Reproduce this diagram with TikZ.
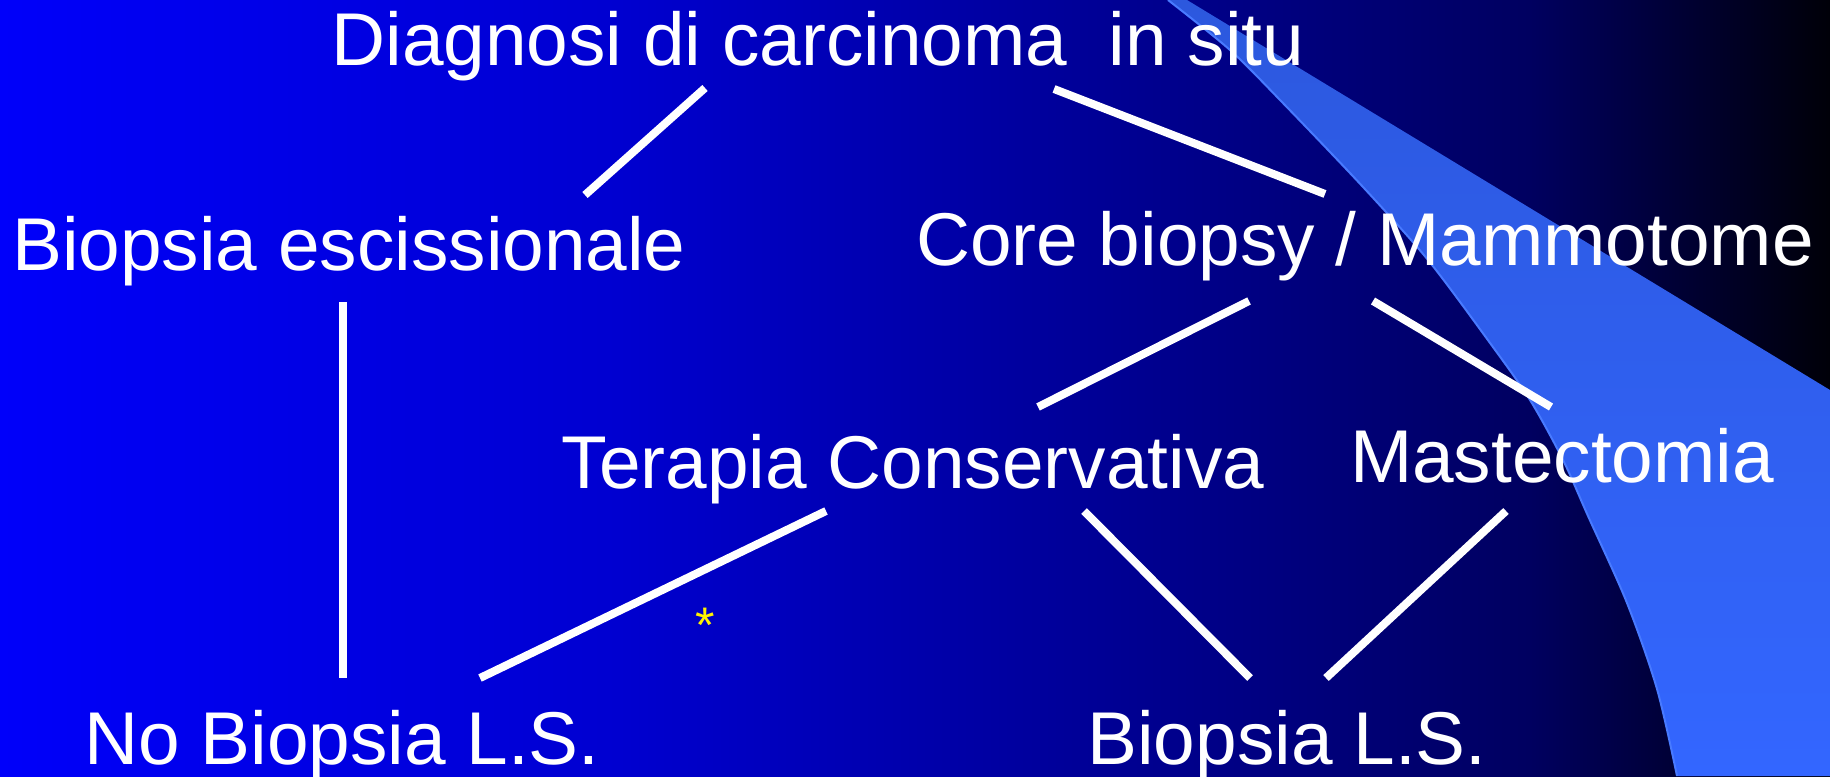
\documentclass[tikz,border=0pt]{standalone}
\usepackage{fontspec}
\setmainfont{Liberation Sans}
\definecolor{bgA}{RGB}{0,0,250}
\definecolor{bgB}{RGB}{0,0,208}
\definecolor{bgC}{RGB}{0,0,154}
\definecolor{bgD}{RGB}{0,0,96}
\definecolor{bgE}{RGB}{0,0,8}
\definecolor{swtop}{RGB}{44,88,222}
\definecolor{swmid}{RGB}{51,102,255}
\definecolor{swedge}{RGB}{72,122,255}
\pgfdeclarehorizontalshading{bgshade}{100bp}{color(0bp)=(bgA); color(25bp)=(bgA); color(41.9bp)=(bgB); color(53.95bp)=(bgC); color(66.8bp)=(bgD); color(75bp)=(bgE); color(100bp)=(bgE)}
\begin{document}
\begin{tikzpicture}[x=0.5pt,y=-0.5pt,
  link/.style={draw=white,line width=4pt},
  lbl/.style={text=white,font=\fontsize{37.4}{45}\selectfont,inner sep=0pt,anchor=base}]
\useasboundingbox (0,0) rectangle (1830,776);
% background
\shade[shading=bgshade] (0,0) rectangle (1830,776);
% swoosh
\shade[top color=swtop, middle color=swmid, bottom color=swmid]
  (1187,0) -- (1830,390) -- (1830,776) -- (1677,776)
  -- plot[smooth] coordinates {(1677,776) (1657,689) (1627,603) (1588,516) (1563,460) (1530,400) (1490,343) (1428,260) (1363,187) (1280,100) (1230,50) (1168,0)}
  -- cycle;
\draw[swedge, line width=1pt] plot[smooth] coordinates {(1677,776) (1657,689) (1627,603) (1588,516) (1563,460) (1530,400) (1490,343) (1428,260) (1363,187) (1280,100) (1230,50) (1168,0)};
% labels
\node[lbl] (diag) at (818,65) {Diagnosi di carcinoma\ \ in situ};
\node[lbl] (bioesc) at (349,270) {Biopsia escissionale};
\node[lbl] (core) at (1365,265) {Core biopsy / Mammotome};
\node[lbl] (terapia) at (913,488) {Terapia Conservativa};
\node[lbl] (mast) at (1562,482) {Mastectomia};
\node[lbl] (nobio) at (342,764) {No Biopsia L.S.};
\node[lbl] (bio) at (1287,764) {Biopsia L.S.};
\node[text=yellow, font=\fontsize{25}{30}\selectfont, inner sep=0pt, anchor=north] (star) at (705,608) {*};
% connector ends
\coordinate (diagL) at (705,88);
\coordinate (bioescT) at (585,195);
\coordinate (diagR) at (1054,89);
\coordinate (coreT) at (1325,194);
\coordinate (bioescB) at (343,302);
\coordinate (nobioT) at (343,678);
\coordinate (coreL) at (1249,301);
\coordinate (terapiaT) at (1038,407);
\coordinate (coreR) at (1373,301);
\coordinate (mastT) at (1551,407);
\coordinate (terapiaL) at (826,511);
\coordinate (nobioR) at (480,678);
\coordinate (terapiaR) at (1084,511);
\coordinate (bioL) at (1250,678);
\coordinate (mastB) at (1506,511);
\coordinate (bioR) at (1326,678);
% connectors
\draw[link] (diagL) -- (bioescT);
\draw[link] (diagR) -- (coreT);
\draw[link] (bioescB) -- (nobioT);
\draw[link] (coreL) -- (terapiaT);
\draw[link] (coreR) -- (mastT);
\draw[link] (terapiaL) -- (nobioR);
\draw[link] (terapiaR) -- (bioL);
\draw[link] (mastB) -- (bioR);
\end{tikzpicture}
\end{document}
